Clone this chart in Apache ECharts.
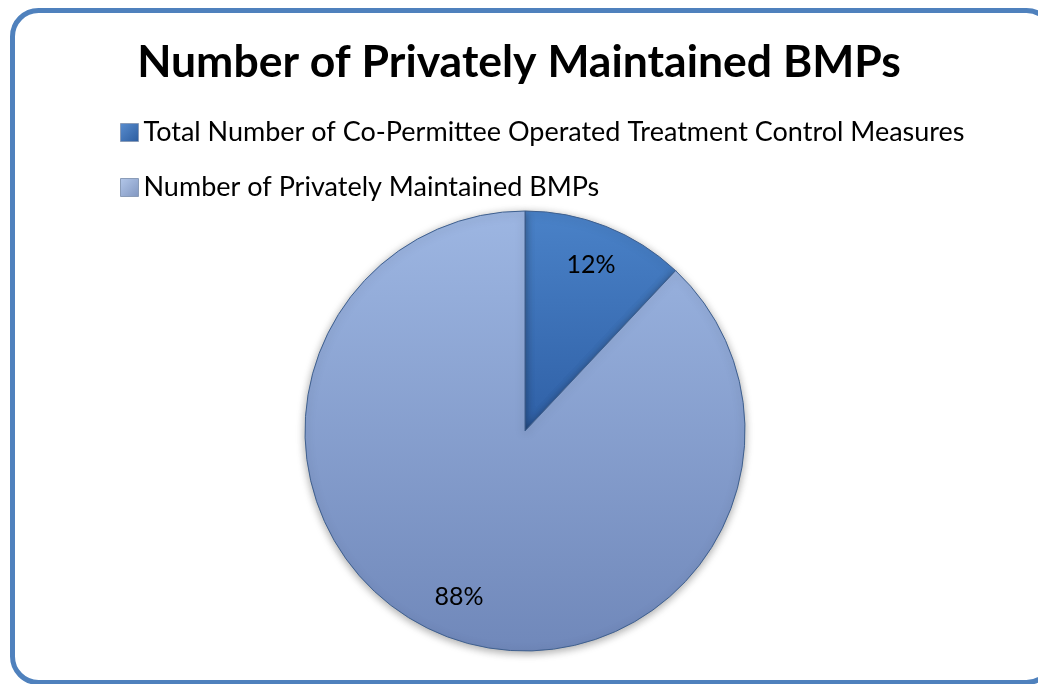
<!DOCTYPE html>
<html>
<head>
<meta charset="utf-8">
<script src="https://cdn.jsdelivr.net/npm/echarts@6/dist/echarts.min.js"></script>
<style>
  html, body { margin: 0; padding: 0; background: #fff; overflow: hidden; }
  #chart { width: 1038px; height: 684px; }
</style>
</head>
<body>
<div id="chart"></div>
<script>
const chartTitle = 'Number of Privately Maintained BMPs';
const categories = [
  'Total Number of Co-Permittee Operated Treatment Control Measures',
  'Number of Privately Maintained BMPs'
];
const values = [12, 88];

const sliceColors = [
  new echarts.graphic.LinearGradient(0, 0, 0, 1, [
    { offset: 0, color: '#4A82C8' }, { offset: 1, color: '#2F60A6' }
  ]),
  new echarts.graphic.LinearGradient(0, 0, 0, 1, [
    { offset: 0, color: '#9DB6E2' }, { offset: 1, color: '#7088BA' }
  ])
];
const legendColors = [
  new echarts.graphic.LinearGradient(0, 0, 1, 1, [
    { offset: 0, color: '#5A8ED0' }, { offset: 1, color: '#2C5C9E' }
  ]),
  new echarts.graphic.LinearGradient(0, 0, 1, 1, [
    { offset: 0, color: '#B4C8EA' }, { offset: 1, color: '#8096C0' }
  ])
];

const pieData = categories.map((name, i) => ({
  name, value: values[i], itemStyle: { color: sliceColors[i] }
}));

const font = 'Lato, "Open Sans", sans-serif';
const R = 220;

const chart = echarts.init(document.getElementById('chart'), null, { renderer: 'canvas' });
chart.setOption({
  animation: false,
  graphic: [{
    // rounded chart-area frame, its right side running past the page edge
    type: 'rect', silent: true, z: 100,
    shape: { x: 12.5, y: 10.5, width: 1040, height: 672, r: 26 },
    style: { fill: 'none', stroke: '#4F81BD', lineWidth: 5 }
  }],
  title: {
    text: chartTitle, left: 'center', top: 35,
    textStyle: { fontFamily: font, fontWeight: 'bold', fontSize: 44.5, color: '#000' }
  },
  legend: {
    orient: 'vertical', left: 115, top: 114, itemGap: 28,
    itemWidth: 18, itemHeight: 18, icon: 'rect',
    textStyle: { fontFamily: font, fontSize: 27, color: '#000' },
    data: categories.map((name, i) => ({ name, itemStyle: { color: legendColors[i], borderColor: '#8A9CB8', borderWidth: 1 } }))
  },
  series: [
    {
      type: 'pie', center: [525, 431], radius: R, startAngle: 90, clockwise: true,
      data: pieData, label: { show: false }, labelLine: { show: false },
      itemStyle: { borderColor: '#3E5F8E', borderWidth: 1, shadowBlur: 8, shadowColor: 'rgba(0,0,0,0.35)', shadowOffsetY: 2 },
      emphasis: { disabled: true }
    },
    {
      // transparent ring used only to place the percentage labels at 80% of the radius
      type: 'pie', center: [525, 431], radius: [R * 0.6, R], startAngle: 90, clockwise: true,
      silent: true, legendHoverLink: false,
      data: categories.map((name, i) => ({ name, value: values[i], itemStyle: { color: 'rgba(0,0,0,0)' } })),
      label: { show: true, position: 'inside', formatter: '{d}%', fontFamily: font, fontSize: 25, color: '#000' },
      labelLine: { show: false }, emphasis: { disabled: true }
    }
  ]
});
</script>
</body>
</html>
